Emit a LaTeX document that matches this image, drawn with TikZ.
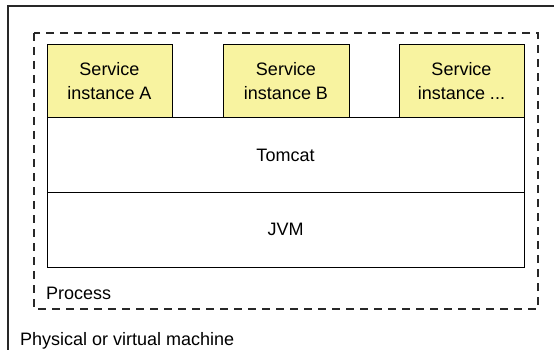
\documentclass[tikz,border=0pt]{standalone}
\usepackage{fontspec}
\setmainfont{Liberation Sans}
\definecolor{svcyellow}{RGB}{248,243,160}
\definecolor{framegray}{RGB}{40,40,40}
\begin{document}
\begin{tikzpicture}[x=1pt,y=-1pt,
  lbl/.style={font=\fontsize{18}{24}\selectfont},
  layer/.style={draw=black,line width=1pt,inner sep=0pt,outer sep=0pt,font=\fontsize{18}{24}\selectfont,align=center},
  svc/.style={layer,fill=svcyellow,minimum width=125pt,minimum height=73pt},
  band/.style={layer,minimum width=477pt,minimum height=74.5pt},
  procbox/.style={draw=framegray,line width=1.2pt,dash pattern=on 8pt off 6pt},
  machbox/.style={draw=framegray,line width=1.6pt}]
\useasboundingbox (0,0) rectangle (554,350);
\begin{scope}
\clip (0,0) rectangle (554,350);
\draw[machbox] (8,380) |- (600,6);
\end{scope}
\draw[procbox] (34,33) rectangle (538,309);
\node[svc,anchor=north west] (sa) at (47,45) {Service\\instance A};
\node[svc,anchor=north west,minimum width=126pt] (sb) at (223,45) {Service\\instance B};
\node[svc,anchor=north west] (sc) at (399,45) {Service\\instance ...};
\node[band,anchor=north west] (tomcat) at (47,118) {Tomcat};
\node[band,anchor=north west] (jvm) at (47,192.5) {JVM};
\node[lbl,anchor=base west,inner sep=0pt] (proc) at (46,299) {Process};
\node[lbl,anchor=base west,inner sep=0pt] (mach) at (20,345) {Physical or virtual machine};
\end{tikzpicture}
\end{document}
